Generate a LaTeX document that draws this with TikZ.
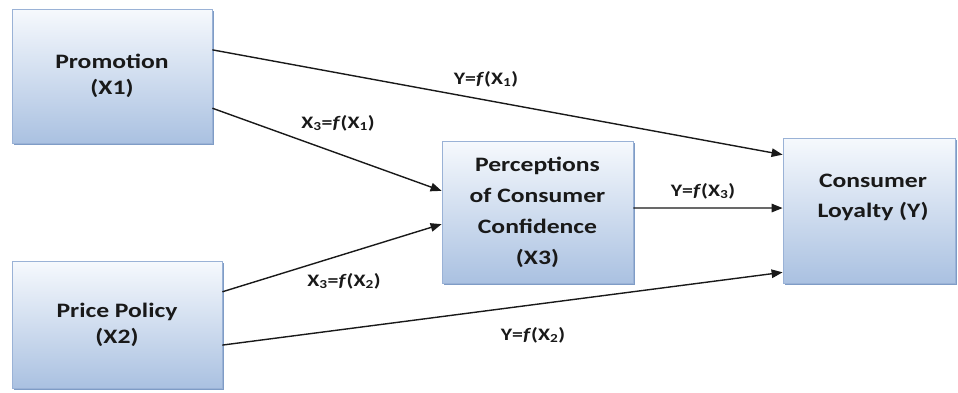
\documentclass[tikz,border=0pt]{standalone}
\usepackage{fontspec}
\setmainfont[FakeStretch=1.25]{Carlito}
\usetikzlibrary{arrows.meta,shadows,calc}
\definecolor{boxtop}{HTML}{F6F9FD}
\definecolor{boxbot}{HTML}{AAC1E1}
\definecolor{boxline}{HTML}{9AB2D6}
\definecolor{boxshadow}{HTML}{7F9CC6}
\tikzset{
  varbox/.style={rectangle, draw=boxline, line width=0.8pt, top color=boxtop, bottom color=boxbot,
    drop shadow={shadow xshift=2.2pt, shadow yshift=-2.2pt, fill=boxshadow, opacity=1},
    align=center, font=\fontsize{20.5}{26}\selectfont\bfseries, text=black!90},
  boxtext/.style={align=center, font=\fontsize{20.5}{30}\selectfont\bfseries, text=black!90, inner sep=0pt},
  lbl/.style={font=\fontsize{17.5}{20}\selectfont\bfseries, text=black!90, inner sep=0pt},
  conn/.style={line width=1.4pt, draw=black!90, -{Triangle[length=11pt,width=8.5pt]}}
}
\newcommand{\fx}[2]{#1=\textit{f}(X\textsubscript{#2})}
\begin{document}
\begin{tikzpicture}[x=1pt,y=-1pt]
\useasboundingbox (0,0) rectangle (958,392);
\node[varbox, minimum width=200pt, minimum height=134pt] (prom) at (112,76) {Promotion\\(X1)};
\node[varbox, minimum width=210pt, minimum height=127pt] (price) at (117,324.5) {Price Policy\\(X2)};
\node[varbox, minimum width=191pt, minimum height=142pt, font=\fontsize{20.5}{31}\selectfont\bfseries] (perc) at (537.5,212) {Perceptions\\of Consumer\\Confidence\\(X3)};
\node[varbox, minimum width=172pt, minimum height=145pt] (loy) at (869,210.5) {};
\node[boxtext] (loytext) at (873,197) {Consumer\\Loyalty (Y)};

\draw[conn] ($(prom.north east)!0.306!(prom.south east)$) -- ($(loy.north west)!0.117!(loy.south west)$);
\draw[conn] ($(prom.north east)!0.739!(prom.south east)$) -- ($(perc.north west)!0.352!(perc.south west)$);
\draw[conn] ($(price.north east)!0.244!(price.south east)$) -- ($(perc.north west)!0.585!(perc.south west)$);
\draw[conn] ($(price.north east)!0.661!(price.south east)$) -- ($(loy.north west)!0.924!(loy.south west)$);
\draw[conn] ($(perc.north east)!0.472!(perc.south east)$) -- ($(loy.north west)!0.483!(loy.south west)$);

\node[lbl] (l1) at (486,79) {\fx{Y}{1}};
\node[lbl] (l2) at (338,123) {\fx{X\textsubscript{3}}{1}};
\node[lbl] (l3) at (703,191) {\fx{Y}{3}};
\node[lbl] (l4) at (344,281) {\fx{X\textsubscript{3}}{2}};
\node[lbl] (l5) at (533,335) {\fx{Y}{2}};
\end{tikzpicture}
\end{document}
